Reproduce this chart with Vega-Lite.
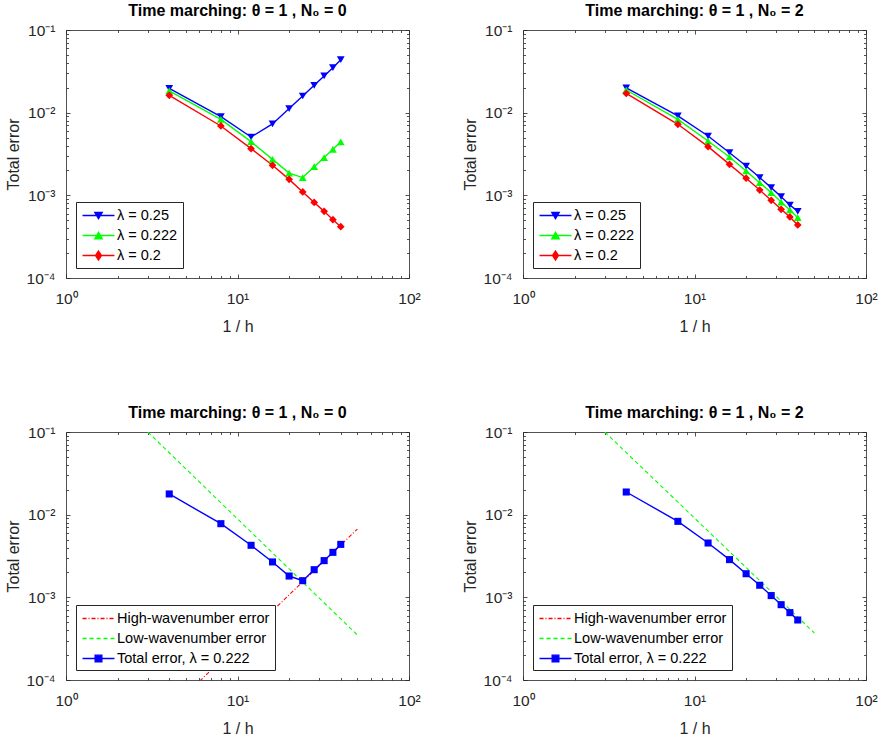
{
"$schema":"https://vega.github.io/schema/vega-lite/v6.json",
"background":"white",
"padding":{"left":5,"top":3,"right":5,"bottom":5},
"config":{
 "font":"Liberation Sans",
 "view":{"stroke":null},
 "axis":{"grid":false,"domainColor":"#262626","domainWidth":0.8,"tickColor":"#262626","tickWidth":0.8,"labelFont":"Liberation Sans","labelFontSize":15.5,"labelColor":"#262626","titleFont":"Liberation Sans","titleFontSize":16,"titleFontWeight":"normal","titleColor":"#262626","labelOverlap":false,"labelFlush":false,"labelBound":false},
 "title":{"font":"Liberation Sans","fontSize":16,"fontWeight":"bold","color":"black","offset":4},
 "legend":{"strokeColor":"#262626","fillColor":"white","padding":5,"orient":"bottom-left","offset":10,"labelFont":"Liberation Sans","labelFontSize":14.5,"labelColor":"black","symbolSize":225,"symbolStrokeWidth":1.3,"symbolOffset":9,"labelOffset":10,"rowPadding":5,"cornerRadius":0}
},
"resolve":{"scale":{"color":"independent","fill":"independent","stroke":"independent","shape":"independent","strokeDash":"independent"}},
"datasets":{
 "p1":[
  {"s":"λ = 0.25","x":4,"y":0.0197},{"s":"λ = 0.25","x":8,"y":0.00895},{"s":"λ = 0.25","x":12,"y":0.00508},{"s":"λ = 0.25","x":16,"y":0.0073},{"s":"λ = 0.25","x":20,"y":0.0112},{"s":"λ = 0.25","x":24,"y":0.0159},{"s":"λ = 0.25","x":28,"y":0.0214},{"s":"λ = 0.25","x":32,"y":0.0278},{"s":"λ = 0.25","x":36,"y":0.035},{"s":"λ = 0.25","x":40,"y":0.0437},
  {"s":"λ = 0.222","x":4,"y":0.0183},{"s":"λ = 0.222","x":8,"y":0.0083},{"s":"λ = 0.222","x":12,"y":0.00446},{"s":"λ = 0.222","x":16,"y":0.00272},{"s":"λ = 0.222","x":20,"y":0.00186},{"s":"λ = 0.222","x":24,"y":0.00164},{"s":"λ = 0.222","x":28,"y":0.00222},{"s":"λ = 0.222","x":32,"y":0.00286},{"s":"λ = 0.222","x":36,"y":0.0036},{"s":"λ = 0.222","x":40,"y":0.00442},
  {"s":"λ = 0.2","x":4,"y":0.0162},{"s":"λ = 0.2","x":8,"y":0.0069},{"s":"λ = 0.2","x":12,"y":0.00367},{"s":"λ = 0.2","x":16,"y":0.00231},{"s":"λ = 0.2","x":20,"y":0.00156},{"s":"λ = 0.2","x":24,"y":0.0011},{"s":"λ = 0.2","x":28,"y":0.00082},{"s":"λ = 0.2","x":32,"y":0.00064},{"s":"λ = 0.2","x":36,"y":0.000508},{"s":"λ = 0.2","x":40,"y":0.000418}
 ],
 "p2":[
  {"s":"λ = 0.25","x":4,"y":0.02},{"s":"λ = 0.25","x":8,"y":0.00912},{"s":"λ = 0.25","x":12,"y":0.00522},{"s":"λ = 0.25","x":16,"y":0.00328},{"s":"λ = 0.25","x":20,"y":0.00226},{"s":"λ = 0.25","x":24,"y":0.00164},{"s":"λ = 0.25","x":28,"y":0.00124},{"s":"λ = 0.25","x":32,"y":0.000964},{"s":"λ = 0.25","x":36,"y":0.000764},{"s":"λ = 0.25","x":40,"y":0.00064},
  {"s":"λ = 0.222","x":4,"y":0.0188},{"s":"λ = 0.222","x":8,"y":0.0083},{"s":"λ = 0.222","x":12,"y":0.00454},{"s":"λ = 0.222","x":16,"y":0.00291},{"s":"λ = 0.222","x":20,"y":0.00197},{"s":"λ = 0.222","x":24,"y":0.00142},{"s":"λ = 0.222","x":28,"y":0.00108},{"s":"λ = 0.222","x":32,"y":0.00083},{"s":"λ = 0.222","x":36,"y":0.000665},{"s":"λ = 0.222","x":40,"y":0.000537},
  {"s":"λ = 0.2","x":4,"y":0.0171},{"s":"λ = 0.2","x":8,"y":0.00723},{"s":"λ = 0.2","x":12,"y":0.00388},{"s":"λ = 0.2","x":16,"y":0.00237},{"s":"λ = 0.2","x":20,"y":0.00161},{"s":"λ = 0.2","x":24,"y":0.00116},{"s":"λ = 0.2","x":28,"y":0.00087},{"s":"λ = 0.2","x":32,"y":0.000678},{"s":"λ = 0.2","x":36,"y":0.000547},{"s":"λ = 0.2","x":40,"y":0.000438}
 ],
 "p3":[
  {"s":"High-wavenumber error","x":3,"y":0.0000241},{"s":"High-wavenumber error","x":50,"y":0.0067},
  {"s":"Low-wavenumber error","x":3,"y":0.1},{"s":"Low-wavenumber error","x":50,"y":0.00035},
  {"s":"Total error, λ = 0.222","x":4,"y":0.0178},{"s":"Total error, λ = 0.222","x":8,"y":0.00778},{"s":"Total error, λ = 0.222","x":12,"y":0.00426},{"s":"Total error, λ = 0.222","x":16,"y":0.00268},{"s":"Total error, λ = 0.222","x":20,"y":0.00181},{"s":"Total error, λ = 0.222","x":24,"y":0.00159},{"s":"Total error, λ = 0.222","x":28,"y":0.00216},{"s":"Total error, λ = 0.222","x":32,"y":0.00278},{"s":"Total error, λ = 0.222","x":36,"y":0.0035},{"s":"Total error, λ = 0.222","x":40,"y":0.00437}
 ],
 "p4":[
  {"s":"Low-wavenumber error","x":3,"y":0.1},{"s":"Low-wavenumber error","x":50,"y":0.00037},
  {"s":"Total error, λ = 0.222","x":4,"y":0.0188},{"s":"Total error, λ = 0.222","x":8,"y":0.0083},{"s":"Total error, λ = 0.222","x":12,"y":0.00454},{"s":"Total error, λ = 0.222","x":16,"y":0.00286},{"s":"Total error, λ = 0.222","x":20,"y":0.00193},{"s":"Total error, λ = 0.222","x":24,"y":0.0014},{"s":"Total error, λ = 0.222","x":28,"y":0.00105},{"s":"Total error, λ = 0.222","x":32,"y":0.000815},{"s":"Total error, λ = 0.222","x":36,"y":0.000653},{"s":"Total error, λ = 0.222","x":40,"y":0.000532}
 ]
},
"bounds":"flush",
"columns":2,
"spacing":{"row":154,"column":114},
"concat":[
 {"width":343,"height":248,"title":"Time marching: θ = 1 , N₀ = 0","data":{"name":"p1"},
  "resolve":{"axis":{"x":"independent","y":"independent"}},
  "layer":[
   {"transform":[{"filter":"datum.s=='λ = 0.25'"}],"mark":{"type":"line","strokeWidth":1.4,"color":"#0000ff"},
    "encoding":{
     "x":{"field":"x","type":"quantitative","scale":{"type":"log","domain":[1,100],"nice":false},
      "axis":{"orient":"bottom","values":[1,2,3,4,5,6,7,8,9,10,20,30,40,50,60,70,80,90,100],"labelExpr":"datum.value==1?'10⁰':datum.value==10?'10¹':datum.value==100?'10²':''","title":"1 / h","labelFontSize":15.5,"titleFontSize":16,"titleFontWeight":"normal","tickSize":{"condition":{"test":"datum.value==1||datum.value==10||datum.value==100","value":-4},"value":-2.5},"labelPadding":17,"titlePadding":10}},
     "y":{"field":"y","type":"quantitative","scale":{"type":"log","domain":[0.0001,0.1],"nice":false},
      "axis":{"orient":"left","values":[0.0001,0.0002,0.0003,0.0004,0.0005,0.0006,0.0007,0.0008,0.0009,0.001,0.002,0.003,0.004,0.005,0.006,0.007,0.008,0.009,0.01,0.02,0.03,0.04,0.05,0.06,0.07,0.08,0.09,0.1],"labelExpr":"datum.value==0.1?'10⁻¹':datum.value==0.01?'10⁻²':datum.value==0.001?'10⁻³':datum.value==0.0001?'10⁻⁴':''","title":"Total error","labelFontSize":15.5,"titleFontSize":16,"titleFontWeight":"normal","tickSize":{"condition":{"test":"datum.value==0.1||datum.value==0.01||datum.value==0.001||datum.value==0.0001","value":-4},"value":-2.5},"labelPadding":15,"titlePadding":5}}}},
   {"transform":[{"filter":"datum.s=='λ = 0.222'"}],"mark":{"type":"line","strokeWidth":1.4,"color":"#00ff00"},
    "encoding":{"x":{"field":"x","type":"quantitative","axis":null},"y":{"field":"y","type":"quantitative","axis":null}}},
   {"transform":[{"filter":"datum.s=='λ = 0.2'"}],"mark":{"type":"line","strokeWidth":1.4,"color":"#ff0000"},
    "encoding":{"x":{"field":"x","type":"quantitative","axis":null},"y":{"field":"y","type":"quantitative","axis":null}}},
   {"transform":[{"filter":"datum.s=='λ = 0.25'"}],"mark":{"type":"point","shape":"triangle-down","filled":true,"size":60,"color":"#0000ff","opacity":1},
    "encoding":{"x":{"field":"x","type":"quantitative","axis":null},"y":{"field":"y","type":"quantitative","axis":null}}},
   {"transform":[{"filter":"datum.s=='λ = 0.222'"}],"mark":{"type":"point","shape":"triangle-up","filled":true,"size":60,"color":"#00ff00","opacity":1},
    "encoding":{"x":{"field":"x","type":"quantitative","axis":null},"y":{"field":"y","type":"quantitative","axis":null}}},
   {"transform":[{"filter":"datum.s=='λ = 0.2'"}],"mark":{"type":"point","shape":"diamond","filled":true,"size":60,"color":"#ff0000","opacity":1},
    "encoding":{"x":{"field":"x","type":"quantitative","axis":null},"y":{"field":"y","type":"quantitative","axis":null}}},
   {"transform":[{"filter":"false"}],"mark":{"type":"point","filled":true,"size":225,"opacity":1,"strokeWidth":1.3},
    "encoding":{
     "x":{"field":"x","type":"quantitative","axis":{"orient":"top","values":[1,2,3,4,5,6,7,8,9,10,20,30,40,50,60,70,80,90,100],"labels":false,"title":null,"tickSize":{"condition":{"test":"datum.value==1||datum.value==10||datum.value==100","value":-4},"value":-2.5}}},
     "y":{"field":"y","type":"quantitative","axis":{"orient":"right","values":[0.0001,0.0002,0.0003,0.0004,0.0005,0.0006,0.0007,0.0008,0.0009,0.001,0.002,0.003,0.004,0.005,0.006,0.007,0.008,0.009,0.01,0.02,0.03,0.04,0.05,0.06,0.07,0.08,0.09,0.1],"labels":false,"title":null,"tickSize":{"condition":{"test":"datum.value==0.1||datum.value==0.01||datum.value==0.001||datum.value==0.0001","value":-4},"value":-2.5}}},
     "shape":{"field":"s","type":"nominal","scale":{"domain":["λ = 0.25","λ = 0.222","λ = 0.2"],"range":["M-2.13,0H2.13M-0.5,-0.43H0.5L0,0.43Z","M-2.13,0H2.13M-0.5,0.43H0.5L0,-0.43Z","M-2.13,0H2.13M0,-0.6L0.4,0L0,0.6L-0.4,0Z"]},"legend":{"title":null}},
     "fill":{"field":"s","type":"nominal","scale":{"domain":["λ = 0.25","λ = 0.222","λ = 0.2"],"range":["#0000ff","#00ff00","#ff0000"]},"legend":{"title":null}},
     "stroke":{"field":"s","type":"nominal","scale":{"domain":["λ = 0.25","λ = 0.222","λ = 0.2"],"range":["#0000ff","#00ff00","#ff0000"]},"legend":{"title":null}}}}
  ]},
 {"width":343,"height":248,"title":"Time marching: θ = 1 , N₀ = 2","data":{"name":"p2"},
  "resolve":{"axis":{"x":"independent","y":"independent"}},
  "layer":[
   {"transform":[{"filter":"datum.s=='λ = 0.25'"}],"mark":{"type":"line","strokeWidth":1.4,"color":"#0000ff"},
    "encoding":{
     "x":{"field":"x","type":"quantitative","scale":{"type":"log","domain":[1,100],"nice":false},
      "axis":{"orient":"bottom","values":[1,2,3,4,5,6,7,8,9,10,20,30,40,50,60,70,80,90,100],"labelExpr":"datum.value==1?'10⁰':datum.value==10?'10¹':datum.value==100?'10²':''","title":"1 / h","labelFontSize":15.5,"titleFontSize":16,"titleFontWeight":"normal","tickSize":{"condition":{"test":"datum.value==1||datum.value==10||datum.value==100","value":-4},"value":-2.5},"labelPadding":17,"titlePadding":10}},
     "y":{"field":"y","type":"quantitative","scale":{"type":"log","domain":[0.0001,0.1],"nice":false},
      "axis":{"orient":"left","values":[0.0001,0.0002,0.0003,0.0004,0.0005,0.0006,0.0007,0.0008,0.0009,0.001,0.002,0.003,0.004,0.005,0.006,0.007,0.008,0.009,0.01,0.02,0.03,0.04,0.05,0.06,0.07,0.08,0.09,0.1],"labelExpr":"datum.value==0.1?'10⁻¹':datum.value==0.01?'10⁻²':datum.value==0.001?'10⁻³':datum.value==0.0001?'10⁻⁴':''","title":"Total error","labelFontSize":15.5,"titleFontSize":16,"titleFontWeight":"normal","tickSize":{"condition":{"test":"datum.value==0.1||datum.value==0.01||datum.value==0.001||datum.value==0.0001","value":-4},"value":-2.5},"labelPadding":15,"titlePadding":5}}}},
   {"transform":[{"filter":"datum.s=='λ = 0.222'"}],"mark":{"type":"line","strokeWidth":1.4,"color":"#00ff00"},
    "encoding":{"x":{"field":"x","type":"quantitative","axis":null},"y":{"field":"y","type":"quantitative","axis":null}}},
   {"transform":[{"filter":"datum.s=='λ = 0.2'"}],"mark":{"type":"line","strokeWidth":1.4,"color":"#ff0000"},
    "encoding":{"x":{"field":"x","type":"quantitative","axis":null},"y":{"field":"y","type":"quantitative","axis":null}}},
   {"transform":[{"filter":"datum.s=='λ = 0.25'"}],"mark":{"type":"point","shape":"triangle-down","filled":true,"size":60,"color":"#0000ff","opacity":1},
    "encoding":{"x":{"field":"x","type":"quantitative","axis":null},"y":{"field":"y","type":"quantitative","axis":null}}},
   {"transform":[{"filter":"datum.s=='λ = 0.222'"}],"mark":{"type":"point","shape":"triangle-up","filled":true,"size":60,"color":"#00ff00","opacity":1},
    "encoding":{"x":{"field":"x","type":"quantitative","axis":null},"y":{"field":"y","type":"quantitative","axis":null}}},
   {"transform":[{"filter":"datum.s=='λ = 0.2'"}],"mark":{"type":"point","shape":"diamond","filled":true,"size":60,"color":"#ff0000","opacity":1},
    "encoding":{"x":{"field":"x","type":"quantitative","axis":null},"y":{"field":"y","type":"quantitative","axis":null}}},
   {"transform":[{"filter":"false"}],"mark":{"type":"point","filled":true,"size":225,"opacity":1,"strokeWidth":1.3},
    "encoding":{
     "x":{"field":"x","type":"quantitative","axis":{"orient":"top","values":[1,2,3,4,5,6,7,8,9,10,20,30,40,50,60,70,80,90,100],"labels":false,"title":null,"tickSize":{"condition":{"test":"datum.value==1||datum.value==10||datum.value==100","value":-4},"value":-2.5}}},
     "y":{"field":"y","type":"quantitative","axis":{"orient":"right","values":[0.0001,0.0002,0.0003,0.0004,0.0005,0.0006,0.0007,0.0008,0.0009,0.001,0.002,0.003,0.004,0.005,0.006,0.007,0.008,0.009,0.01,0.02,0.03,0.04,0.05,0.06,0.07,0.08,0.09,0.1],"labels":false,"title":null,"tickSize":{"condition":{"test":"datum.value==0.1||datum.value==0.01||datum.value==0.001||datum.value==0.0001","value":-4},"value":-2.5}}},
     "shape":{"field":"s","type":"nominal","scale":{"domain":["λ = 0.25","λ = 0.222","λ = 0.2"],"range":["M-2.13,0H2.13M-0.5,-0.43H0.5L0,0.43Z","M-2.13,0H2.13M-0.5,0.43H0.5L0,-0.43Z","M-2.13,0H2.13M0,-0.6L0.4,0L0,0.6L-0.4,0Z"]},"legend":{"title":null}},
     "fill":{"field":"s","type":"nominal","scale":{"domain":["λ = 0.25","λ = 0.222","λ = 0.2"],"range":["#0000ff","#00ff00","#ff0000"]},"legend":{"title":null}},
     "stroke":{"field":"s","type":"nominal","scale":{"domain":["λ = 0.25","λ = 0.222","λ = 0.2"],"range":["#0000ff","#00ff00","#ff0000"]},"legend":{"title":null}}}}
  ]},
 {"width":343,"height":248,"title":"Time marching: θ = 1 , N₀ = 0","data":{"name":"p3"},
  "resolve":{"axis":{"x":"independent","y":"independent"}},
  "layer":[
   {"transform":[{"filter":"datum.s=='High-wavenumber error'"}],"mark":{"type":"line","strokeWidth":1.1,"color":"#ff0000","strokeDash":[4,2,1,2],"clip":true},
    "encoding":{
     "x":{"field":"x","type":"quantitative","scale":{"type":"log","domain":[1,100],"nice":false},
      "axis":{"orient":"bottom","values":[1,2,3,4,5,6,7,8,9,10,20,30,40,50,60,70,80,90,100],"labelExpr":"datum.value==1?'10⁰':datum.value==10?'10¹':datum.value==100?'10²':''","title":"1 / h","labelFontSize":15.5,"titleFontSize":16,"titleFontWeight":"normal","tickSize":{"condition":{"test":"datum.value==1||datum.value==10||datum.value==100","value":-4},"value":-2.5},"labelPadding":17,"titlePadding":10}},
     "y":{"field":"y","type":"quantitative","scale":{"type":"log","domain":[0.0001,0.1],"nice":false},
      "axis":{"orient":"left","values":[0.0001,0.0002,0.0003,0.0004,0.0005,0.0006,0.0007,0.0008,0.0009,0.001,0.002,0.003,0.004,0.005,0.006,0.007,0.008,0.009,0.01,0.02,0.03,0.04,0.05,0.06,0.07,0.08,0.09,0.1],"labelExpr":"datum.value==0.1?'10⁻¹':datum.value==0.01?'10⁻²':datum.value==0.001?'10⁻³':datum.value==0.0001?'10⁻⁴':''","title":"Total error","labelFontSize":15.5,"titleFontSize":16,"titleFontWeight":"normal","tickSize":{"condition":{"test":"datum.value==0.1||datum.value==0.01||datum.value==0.001||datum.value==0.0001","value":-4},"value":-2.5},"labelPadding":15,"titlePadding":5}}}},
   {"transform":[{"filter":"datum.s=='Low-wavenumber error'"}],"mark":{"type":"line","strokeWidth":1.1,"color":"#00ff00","strokeDash":[4,3],"clip":true},
    "encoding":{"x":{"field":"x","type":"quantitative","axis":null},"y":{"field":"y","type":"quantitative","axis":null}}},
   {"transform":[{"filter":"datum.s=='Total error, λ = 0.222'"}],"mark":{"type":"line","strokeWidth":1.4,"color":"#0000ff"},
    "encoding":{"x":{"field":"x","type":"quantitative","axis":null},"y":{"field":"y","type":"quantitative","axis":null}}},
   {"transform":[{"filter":"datum.s=='Total error, λ = 0.222'"}],"mark":{"type":"point","shape":"square","filled":true,"size":50,"color":"#0000ff","opacity":1},
    "encoding":{"x":{"field":"x","type":"quantitative","axis":null},"y":{"field":"y","type":"quantitative","axis":null}}},
   {"transform":[{"filter":"false"}],"mark":{"type":"point","filled":true,"size":225,"opacity":1,"strokeWidth":1.3},
    "encoding":{
     "x":{"field":"x","type":"quantitative","axis":{"orient":"top","values":[1,2,3,4,5,6,7,8,9,10,20,30,40,50,60,70,80,90,100],"labels":false,"title":null,"tickSize":{"condition":{"test":"datum.value==1||datum.value==10||datum.value==100","value":-4},"value":-2.5}}},
     "y":{"field":"y","type":"quantitative","axis":{"orient":"right","values":[0.0001,0.0002,0.0003,0.0004,0.0005,0.0006,0.0007,0.0008,0.0009,0.001,0.002,0.003,0.004,0.005,0.006,0.007,0.008,0.009,0.01,0.02,0.03,0.04,0.05,0.06,0.07,0.08,0.09,0.1],"labels":false,"title":null,"tickSize":{"condition":{"test":"datum.value==0.1||datum.value==0.01||datum.value==0.001||datum.value==0.0001","value":-4},"value":-2.5}}},
     "shape":{"field":"s","type":"nominal","scale":{"domain":["High-wavenumber error","Low-wavenumber error","Total error, λ = 0.222"],"range":["M-2.13,0H2.13","M-2.13,0H2.13","M-2.13,0H2.13M-0.45,-0.45H0.45V0.45H-0.45Z"]},"legend":{"title":null}},
     "fill":{"field":"s","type":"nominal","scale":{"domain":["High-wavenumber error","Low-wavenumber error","Total error, λ = 0.222"],"range":["#ff0000","#00ff00","#0000ff"]},"legend":{"title":null}},
     "stroke":{"field":"s","type":"nominal","scale":{"domain":["High-wavenumber error","Low-wavenumber error","Total error, λ = 0.222"],"range":["#ff0000","#00ff00","#0000ff"]},"legend":{"title":null}},
     "strokeDash":{"field":"s","type":"nominal","scale":{"domain":["High-wavenumber error","Low-wavenumber error","Total error, λ = 0.222"],"range":[[4,2,1,2],[4,3],[1,0]]},"legend":{"title":null}}}}
  ]},
 {"width":343,"height":248,"title":"Time marching: θ = 1 , N₀ = 2","data":{"name":"p4"},
  "resolve":{"axis":{"x":"independent","y":"independent"}},
  "layer":[
   {"transform":[{"filter":"datum.s=='Low-wavenumber error'"}],"mark":{"type":"line","strokeWidth":1.1,"color":"#00ff00","strokeDash":[4,3],"clip":true},
    "encoding":{
     "x":{"field":"x","type":"quantitative","scale":{"type":"log","domain":[1,100],"nice":false},
      "axis":{"orient":"bottom","values":[1,2,3,4,5,6,7,8,9,10,20,30,40,50,60,70,80,90,100],"labelExpr":"datum.value==1?'10⁰':datum.value==10?'10¹':datum.value==100?'10²':''","title":"1 / h","labelFontSize":15.5,"titleFontSize":16,"titleFontWeight":"normal","tickSize":{"condition":{"test":"datum.value==1||datum.value==10||datum.value==100","value":-4},"value":-2.5},"labelPadding":17,"titlePadding":10}},
     "y":{"field":"y","type":"quantitative","scale":{"type":"log","domain":[0.0001,0.1],"nice":false},
      "axis":{"orient":"left","values":[0.0001,0.0002,0.0003,0.0004,0.0005,0.0006,0.0007,0.0008,0.0009,0.001,0.002,0.003,0.004,0.005,0.006,0.007,0.008,0.009,0.01,0.02,0.03,0.04,0.05,0.06,0.07,0.08,0.09,0.1],"labelExpr":"datum.value==0.1?'10⁻¹':datum.value==0.01?'10⁻²':datum.value==0.001?'10⁻³':datum.value==0.0001?'10⁻⁴':''","title":"Total error","labelFontSize":15.5,"titleFontSize":16,"titleFontWeight":"normal","tickSize":{"condition":{"test":"datum.value==0.1||datum.value==0.01||datum.value==0.001||datum.value==0.0001","value":-4},"value":-2.5},"labelPadding":15,"titlePadding":5}}}},
   {"transform":[{"filter":"datum.s=='Total error, λ = 0.222'"}],"mark":{"type":"line","strokeWidth":1.4,"color":"#0000ff"},
    "encoding":{"x":{"field":"x","type":"quantitative","axis":null},"y":{"field":"y","type":"quantitative","axis":null}}},
   {"transform":[{"filter":"datum.s=='Total error, λ = 0.222'"}],"mark":{"type":"point","shape":"square","filled":true,"size":50,"color":"#0000ff","opacity":1},
    "encoding":{"x":{"field":"x","type":"quantitative","axis":null},"y":{"field":"y","type":"quantitative","axis":null}}},
   {"transform":[{"filter":"false"}],"mark":{"type":"point","filled":true,"size":225,"opacity":1,"strokeWidth":1.3},
    "encoding":{
     "x":{"field":"x","type":"quantitative","axis":{"orient":"top","values":[1,2,3,4,5,6,7,8,9,10,20,30,40,50,60,70,80,90,100],"labels":false,"title":null,"tickSize":{"condition":{"test":"datum.value==1||datum.value==10||datum.value==100","value":-4},"value":-2.5}}},
     "y":{"field":"y","type":"quantitative","axis":{"orient":"right","values":[0.0001,0.0002,0.0003,0.0004,0.0005,0.0006,0.0007,0.0008,0.0009,0.001,0.002,0.003,0.004,0.005,0.006,0.007,0.008,0.009,0.01,0.02,0.03,0.04,0.05,0.06,0.07,0.08,0.09,0.1],"labels":false,"title":null,"tickSize":{"condition":{"test":"datum.value==0.1||datum.value==0.01||datum.value==0.001||datum.value==0.0001","value":-4},"value":-2.5}}},
     "shape":{"field":"s","type":"nominal","scale":{"domain":["High-wavenumber error","Low-wavenumber error","Total error, λ = 0.222"],"range":["M-2.13,0H2.13","M-2.13,0H2.13","M-2.13,0H2.13M-0.45,-0.45H0.45V0.45H-0.45Z"]},"legend":{"title":null}},
     "fill":{"field":"s","type":"nominal","scale":{"domain":["High-wavenumber error","Low-wavenumber error","Total error, λ = 0.222"],"range":["#ff0000","#00ff00","#0000ff"]},"legend":{"title":null}},
     "stroke":{"field":"s","type":"nominal","scale":{"domain":["High-wavenumber error","Low-wavenumber error","Total error, λ = 0.222"],"range":["#ff0000","#00ff00","#0000ff"]},"legend":{"title":null}},
     "strokeDash":{"field":"s","type":"nominal","scale":{"domain":["High-wavenumber error","Low-wavenumber error","Total error, λ = 0.222"],"range":[[4,2,1,2],[4,3],[1,0]]},"legend":{"title":null}}}}
  ]}
]
}
